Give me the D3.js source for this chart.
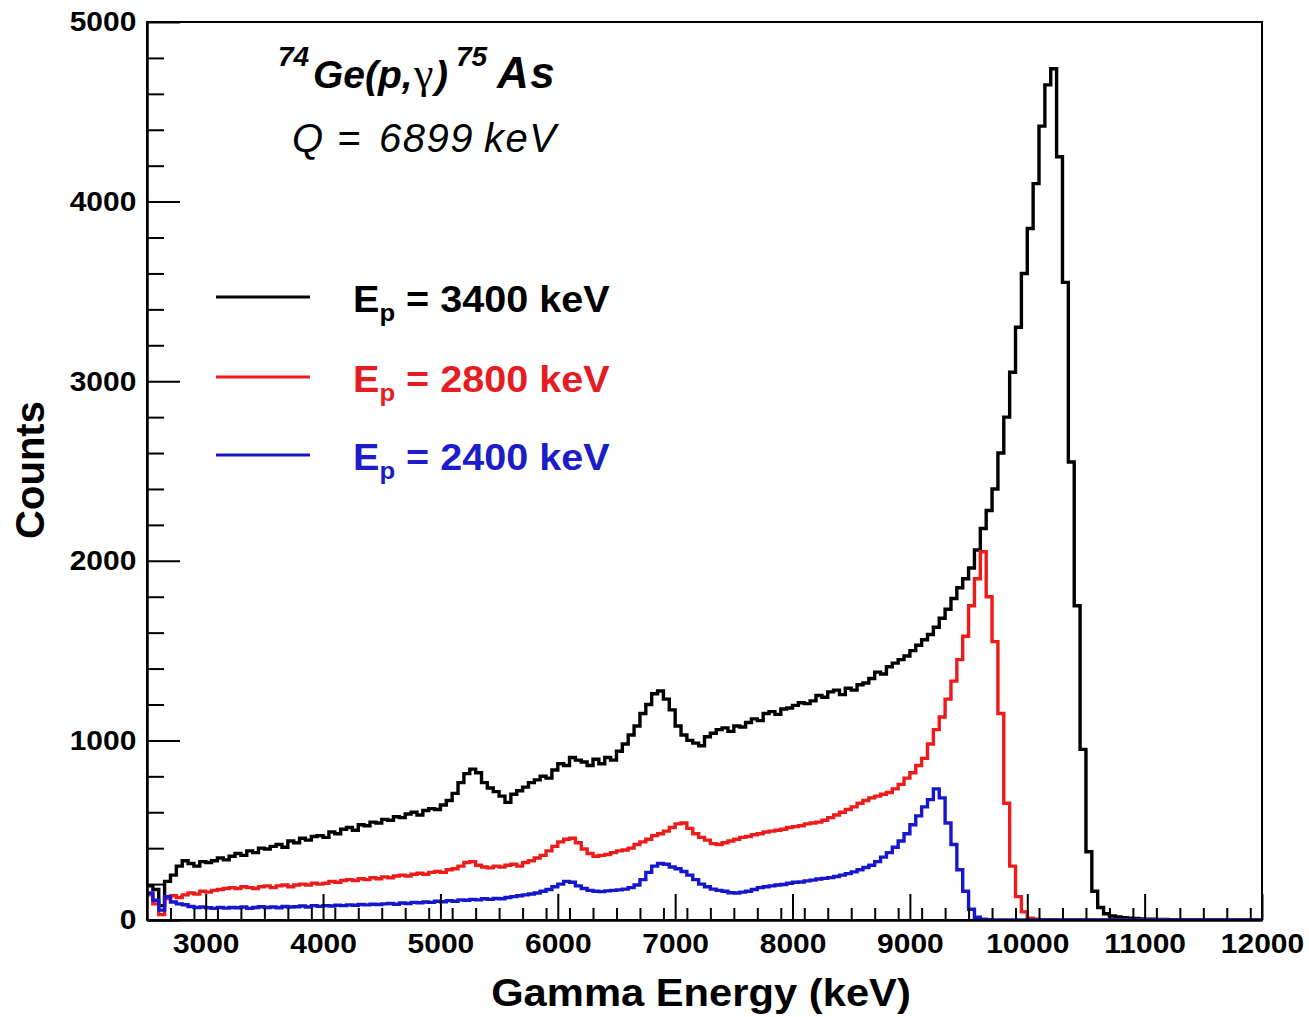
<!DOCTYPE html>
<html>
<head>
<meta charset="utf-8">
<script src="https://cdn.jsdelivr.net/npm/d3@7"></script>
<style>
  body { margin: 0; background: #ffffff; }
  svg { display: block; }
  text { font-family: "Liberation Sans", Arial, Helvetica, sans-serif; }
</style>
</head>
<body>
<svg id="chart" width="1309" height="1017"></svg>
<script>
// Gamma spectra of 74Ge(p,gamma)75As, 50 keV bins starting at 2500 keV
const binStart = 2500;
const binWidth = 50;

// Counts per bin, Ep = 3400 keV (rows of 10 bins = 500 keV)
const countsEp3400 = [
  190, 170, 80, 215, 250, 300, 330, 315, 300, 325,
  320, 330, 345, 335, 355, 370, 360, 385, 375, 400,
  395, 410, 420, 405, 440, 430, 455, 445, 465, 470,
  460, 490, 480, 505, 515, 500, 530, 525, 545, 540,
  560, 555, 575, 570, 590, 600, 585, 610, 620, 615,
  640, 665, 705, 765, 815, 840, 820, 765, 735, 715,
  690, 655, 700, 720, 740, 765, 780, 800, 790, 835,
  870, 860, 905, 890, 880, 860, 895, 870, 905, 890,
  940, 980, 1030, 1080, 1150, 1200, 1260, 1275, 1230, 1170,
  1080, 1030, 1000, 985, 970, 1020, 1040, 1060, 1070, 1050,
  1080, 1075, 1100, 1120, 1110, 1150, 1160, 1145, 1175, 1180,
  1195, 1210, 1205, 1220, 1250, 1240, 1270, 1280, 1255, 1290,
  1280, 1310, 1320, 1345, 1380, 1370, 1410, 1430, 1450, 1470,
  1500, 1530, 1560, 1590, 1630, 1680, 1730, 1790, 1850, 1900,
  1960, 2060, 2180, 2280, 2400, 2600, 2800, 3050, 3300, 3600,
  3850, 4100, 4420, 4650, 4740, 4250, 3550, 2550, 1750, 950,
  380, 160, 70, 35, 22, 17, 13, 10, 8, 6,
  5, 4, 3, 3, 2, 2, 1, 1, 1, 0,
  0, 0, 0, 0, 0, 0, 0, 0, 0, 0
];

// Counts per bin, Ep = 2800 keV
const countsEp2800 = [
  140, 90, 30, 120, 135, 125, 140, 150, 145, 160,
  155, 165, 170, 175, 180, 175, 185, 180, 175, 185,
  190, 180, 190, 195, 185, 195, 200, 195, 205, 200,
  205, 215, 210, 220, 225, 220, 230, 225, 235, 230,
  240, 235, 245, 250, 245, 255, 260, 255, 265, 270,
  265, 280, 285, 300, 320, 325, 305, 295, 290, 300,
  295, 305, 310, 300, 320, 330, 345, 360, 385, 410,
  435, 450, 455, 430, 395, 370, 355, 360, 365, 375,
  385, 390, 400, 420, 435, 450, 470, 480, 495, 515,
  535, 540, 510, 480, 460, 445, 425, 420, 430, 440,
  450, 460, 465, 475, 480, 490, 495, 500, 505, 515,
  520, 525, 535, 540, 545, 555, 570, 585, 600, 615,
  630, 650, 665, 680, 690, 700, 710, 730, 755, 790,
  820, 860, 900, 980, 1060, 1130, 1230, 1330, 1450, 1580,
  1750, 1900, 2050, 1800, 1550, 1150, 650, 300, 130, 45,
  10, 4, 2, 1, 0, 0, 0, 0, 0, 0,
  0, 0, 0, 0, 0, 0, 0, 0, 0, 0,
  0, 0, 0, 0, 0, 0, 0, 0, 0, 0,
  0, 0, 0, 0, 0, 0, 0, 0, 0, 0
];

// Counts per bin, Ep = 2400 keV
const countsEp2400 = [
  150, 110, 55, 130, 100, 90, 85, 75, 70, 72,
  68, 65, 70, 66, 70, 68, 72, 65, 70, 74,
  70, 72, 68, 75, 72, 74, 78, 72, 80, 76,
  80, 78, 82, 80, 84, 82, 86, 84, 88, 86,
  90, 92, 88, 95, 92, 98, 96, 100, 98, 104,
  102, 108, 104, 112, 110, 115, 112, 118, 115, 120,
  118, 125, 130, 135, 140, 145, 150, 160, 170, 185,
  200, 215, 210, 190, 175, 165, 160, 158, 162, 165,
  168, 172, 180, 195, 225, 265, 300, 315, 310, 295,
  285, 270, 250, 225, 200, 185, 172, 165, 160, 152,
  150, 155, 160, 170, 180, 185, 190, 195, 198, 205,
  210, 212, 218, 222, 228, 232, 236, 242, 250, 258,
  268, 280, 292, 305, 325, 350, 375, 405, 440, 480,
  530, 580, 630, 670, 730, 680, 540, 420, 280, 160,
  60, 15, 4, 1, 0, 0, 0, 0, 0, 0,
  0, 0, 0, 0, 0, 0, 0, 0, 0, 0,
  0, 0, 0, 0, 0, 0, 0, 0, 0, 0,
  0, 0, 0, 0, 0, 0, 0, 0, 0, 0,
  0, 0, 0, 0, 0, 0, 0, 0, 0, 0
];

const beamEnergies = ["3400", "2800", "2400"];
const seriesColors = ["#000000", "#ee1b1b", "#1616cf"];
const legendTextColors = ["#000000", "#e61c24", "#1c1cc8"];

const xTickValues = [3000, 4000, 5000, 6000, 7000, 8000, 9000, 10000, 11000, 12000];
const yTickValues = [0, 1000, 2000, 3000, 4000, 5000];
const xMinorStep = 200;
const yMinorStep = 200;

const xDomain = [2500, 12000];
const yDomain = [0, 5000];

// ---- layout ----
const plot = { left: 147, right: 1262, top: 22, bottom: 920 };
const svg = d3.select("#chart");

const x = d3.scaleLinear().domain(xDomain).range([plot.left, plot.right]);
const y = d3.scaleLinear().domain(yDomain).range([plot.bottom, plot.top]);

svg.append("defs").append("clipPath").attr("id", "plotClip")
  .append("rect")
  .attr("x", plot.left).attr("y", plot.top)
  .attr("width", plot.right - plot.left).attr("height", plot.bottom - plot.top);

// ---- histograms ----
const seriesCounts = [countsEp3400, countsEp2800, countsEp2400];
const stepLine = d3.line()
  .x(d => x(d[0]))
  .y(d => y(d[1]))
  .curve(d3.curveStepAfter);

const histLayer = svg.append("g").attr("clip-path", "url(#plotClip)");
seriesCounts.forEach((counts, k) => {
  const pts = counts.map((c, i) => [binStart + i * binWidth, c]);
  pts.push([binStart + counts.length * binWidth, counts[counts.length - 1]]);
  histLayer.append("path")
    .datum(pts)
    .attr("d", stepLine)
    .attr("fill", "none")
    .attr("stroke", seriesColors[k])
    .attr("stroke-width", 3.4)
    .attr("stroke-linejoin", "miter");
});

// ---- frame ----
svg.append("rect")
  .attr("x", plot.left).attr("y", plot.top)
  .attr("width", plot.right - plot.left).attr("height", plot.bottom - plot.top)
  .attr("fill", "none").attr("stroke", "#000").attr("stroke-width", 2);

// ---- axes ----
const isMajorX = v => xTickValues.includes(v);
const isMajorY = v => yTickValues.includes(v);
const xMinor = d3.range(xDomain[0] + xMinorStep, xDomain[1], xMinorStep).filter(v => !isMajorX(v));
const yMinor = d3.range(yDomain[0] + yMinorStep, yDomain[1], yMinorStep).filter(v => !isMajorY(v));

const xAxis = svg.append("g")
  .attr("transform", `translate(0,${plot.bottom})`)
  .call(d3.axisBottom(x).tickValues(xTickValues).tickSize(-26).tickSizeOuter(0).tickPadding(13).tickFormat(d3.format("d")));
svg.append("g")
  .attr("transform", `translate(0,${plot.bottom})`)
  .call(d3.axisBottom(x).tickValues(xMinor).tickSize(-12).tickSizeOuter(0).tickFormat(""));

const yAxis = svg.append("g")
  .attr("transform", `translate(${plot.left},0)`)
  .call(d3.axisLeft(y).tickValues(yTickValues).tickSize(-33).tickSizeOuter(0).tickPadding(10).tickFormat(d3.format("d")));
svg.append("g")
  .attr("transform", `translate(${plot.left},0)`)
  .call(d3.axisLeft(y).tickValues(yMinor).tickSize(-17).tickSizeOuter(0).tickFormat(""));

svg.selectAll(".domain").attr("stroke", "#000").attr("stroke-width", 2);
svg.selectAll(".tick line").attr("stroke", "#000").attr("stroke-width", 2);
svg.selectAll(".tick text")
  .attr("font-family", "'Liberation Sans', Arial, sans-serif")
  .attr("font-weight", "bold")
  .attr("font-size", 28)
  .attr("fill", "#000");
xAxis.selectAll(".tick text").attr("transform", "scale(1.07,1)");
yAxis.selectAll(".tick text").attr("transform", "scale(1.07,1)");

// ---- axis titles ----
svg.append("text")
  .attr("transform", "translate(701,1006) scale(1.07,1)")
  .attr("text-anchor", "middle")
  .attr("font-weight", "bold")
  .attr("font-size", 39)
  .text("Gamma Energy (keV)");

svg.append("text")
  .attr("transform", "translate(44,470) rotate(-90)")
  .attr("text-anchor", "middle")
  .attr("font-weight", "bold")
  .attr("font-size", 40)
  .text("Counts");

// ---- reaction label: 74Ge(p,γ)75As ----
const title = svg.append("text")
  .attr("font-weight", "bold")
  .attr("font-style", "italic")
  .attr("font-size", 39);
title.append("tspan").attr("x", 278).attr("y", 66).attr("font-size", 28).text("74");
title.append("tspan").attr("x", 313).attr("y", 88).text("Ge(p,");
title.append("tspan").attr("x", 414).attr("y", 88)
  .attr("font-family", "'Liberation Serif', 'DejaVu Serif', serif")
  .attr("font-weight", "normal").attr("font-style", "normal").attr("font-size", 44)
  .text("γ");
title.append("tspan").attr("x", 435).attr("y", 88).text(")");
title.append("tspan").attr("x", 456).attr("y", 66).attr("font-size", 28).text("75");
title.append("tspan").attr("x", 497).attr("y", 88).attr("font-size", 44).attr("letter-spacing", 1.5).text("As");

// ---- Q value ----
const qLabel = svg.append("text")
  .attr("font-style", "italic")
  .attr("font-size", 40);
qLabel.append("tspan").attr("x", 292).attr("y", 152).text("Q");
qLabel.append("tspan").attr("x", 337).attr("y", 152).text("=");
qLabel.append("tspan").attr("x", 379).attr("y", 152).attr("letter-spacing", 1.5).text("6899");
qLabel.append("tspan").attr("x", 484).attr("y", 152).attr("letter-spacing", 1.5).text("keV");

// ---- legend ----
const legendRowsY = [297, 377, 455];
beamEnergies.forEach((e, k) => {
  const ly = legendRowsY[k];
  svg.append("line")
    .attr("x1", 216).attr("x2", 310)
    .attr("y1", ly).attr("y2", ly)
    .attr("stroke", seriesColors[k]).attr("stroke-width", 3);
  const t = svg.append("text")
    .attr("transform", `translate(353,${ly + 15}) scale(1.07,1)`)
    .attr("font-weight", "bold")
    .attr("font-size", 37)
    .attr("fill", legendTextColors[k]);
  t.append("tspan").text("E");
  t.append("tspan").attr("font-size", 24).attr("dy", 9).text("p");
  t.append("tspan").attr("dy", -9).text(` = ${e} keV`);
});
</script>
</body>
</html>
